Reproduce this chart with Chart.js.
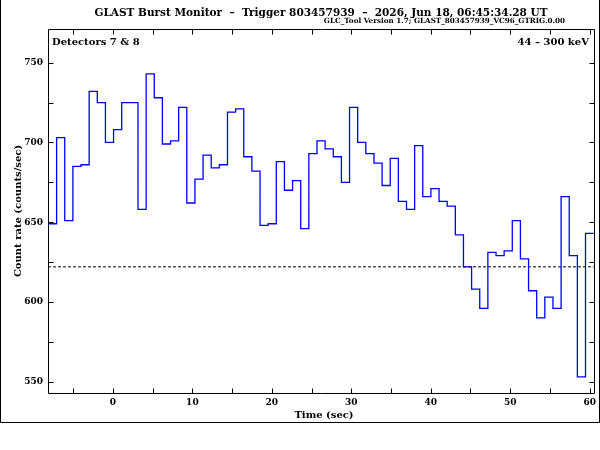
<!DOCTYPE html>
<html><head><meta charset="utf-8">
<script src="https://cdn.jsdelivr.net/npm/chart.js@4.4.1/dist/chart.umd.min.js"></script>
<style>html,body{margin:0;padding:0;background:#fff;}canvas{display:block;}</style>
</head><body>
<canvas id="c" width="600" height="450"></canvas>
<script>
// ---- data ----
const binStart = -8.11;          // left edge of first time bin (s)
const binWidth = 1.024;          // bin width (s)
const rates = [649, 703, 651, 685, 686, 732, 725, 700, 708, 725,
               725, 658, 743, 728, 699, 701, 722, 662, 677, 692,
               684, 686, 719, 721, 691, 682, 648, 649, 688, 670,
               676, 646, 693, 701, 696, 691, 675, 722, 700, 693,
               687, 673, 690, 663, 658, 698, 666, 671, 663, 660,
               642, 622, 608, 596, 631, 629, 632, 651, 627, 607,
               590, 603, 596, 666, 629, 553, 643];
const backgroundLevel = [622];
const xTickValues = [-5, 0, 5, 10, 15, 20, 25, 30, 35, 40, 45, 50, 55, 60];
const xLabelValues = [0, 10, 20, 30, 40, 50, 60];
const yTickValues = [550, 575, 600, 625, 650, 675, 700, 725, 750];
const yLabelValues = [550, 600, 650, 700, 750];
const xRange = [-8.17, 60.53];
const yRange = [542.9, 771.1];

const titleText = 'GLAST Burst Monitor  \u2013  Trigger 803457939  \u2013  2026, Jun 18, 06:45:34.28 UT';
const subtitleText = 'GLC_Tool Version 1.7; GLAST_803457939_VC96_GTRIG.0.00';
const detectorText = 'Detectors 7 & 8';
const energyText = '44 \u2013 300 keV';
const xTitleText = 'Time (sec)';
const yTitleText = 'Count rate (counts/sec)';

// ---- build step points from bins ----
const stepPoints = rates.map((r, i) => ({x: binStart + i * binWidth, y: r}));
stepPoints.push({x: binStart + rates.length * binWidth, y: rates[rates.length - 1]});
const bgPoints = [{x: xRange[0], y: backgroundLevel[0]}, {x: xRange[1], y: backgroundLevel[0]}];

const FONT = '"DejaVu Serif", "Liberation Serif", serif';

const framePlugin = {
  id: 'frame',
  afterDatasetsDraw(chart) {
    const ctx = chart.ctx, a = chart.chartArea;
    const xs = chart.scales.x, ys = chart.scales.y;
    const L = Math.round(a.left) + 0.5, R = Math.round(a.right) + 0.5;
    const T = Math.round(a.top) + 0.5, B = Math.round(a.bottom) + 0.5;
    ctx.save();
    ctx.strokeStyle = '#000';
    ctx.lineWidth = 1;
    ctx.beginPath();
    ctx.rect(L, T, R - L, B - T);
    const tl = 5;
    xs.ticks.forEach(t => {
      const px = Math.round(xs.getPixelForValue(t.value)) + 0.5;
      ctx.moveTo(px, B); ctx.lineTo(px, B - tl);
      ctx.moveTo(px, T); ctx.lineTo(px, T + tl);
    });
    ys.ticks.forEach(t => {
      const py = Math.round(ys.getPixelForValue(t.value)) + 0.5;
      ctx.moveTo(L, py); ctx.lineTo(L + tl, py);
      ctx.moveTo(R, py); ctx.lineTo(R - tl, py);
    });
    ctx.stroke();
    // outer page frame
    ctx.beginPath();
    ctx.moveTo(0.5, 0); ctx.lineTo(0.5, 422.5); ctx.lineTo(599.5, 422.5); ctx.lineTo(599.5, 0);
    ctx.stroke();
    ctx.restore();
  },
  afterDraw(chart) {
    const ctx = chart.ctx, a = chart.chartArea;
    ctx.save();
    ctx.fillStyle = '#000';
    ctx.textBaseline = 'alphabetic';
    ctx.font = 'bold 10.5px ' + FONT;
    ctx.textAlign = 'center';
    ctx.fillText(titleText, 321, 16);
    ctx.font = 'bold 7.2px ' + FONT;
    ctx.textAlign = 'right';
    ctx.fillText(subtitleText, 565, 23);
    ctx.font = 'bold 10px ' + FONT;
    ctx.textAlign = 'left';
    ctx.fillText(detectorText, a.left + 4, 45);
    ctx.textAlign = 'right';
    ctx.fillText(energyText, a.right - 5, 45);
    ctx.textAlign = 'center';
    ctx.fillText(xTitleText, 324, 418);
    ctx.translate(21, (a.top + a.bottom) / 2);
    ctx.rotate(-Math.PI / 2);
    ctx.fillText(yTitleText, 0, 0);
    ctx.restore();
  }
};

new Chart(document.getElementById('c'), {
  type: 'line',
  data: {
    datasets: [
      {data: stepPoints, stepped: true, borderColor: '#0000ff', borderWidth: 1.3,
       pointRadius: 0, fill: false},
      {data: bgPoints, borderColor: '#000', borderWidth: 1, borderDash: [3, 2],
       pointRadius: 0, fill: false}
    ]
  },
  options: {
    responsive: false,
    animation: false,
    devicePixelRatio: 1,
    layout: {padding: {top: 29, right: 6, left: 0, bottom: 0}},
    plugins: {legend: {display: false}, title: {display: false}, tooltip: {enabled: false}},
    scales: {
      x: {
        type: 'linear', min: xRange[0], max: xRange[1],
        grid: {display: false, drawTicks: false}, border: {display: false},
        afterBuildTicks: s => { s.ticks = xTickValues.map(v => ({value: v})); },
        afterFit: s => { s.height = 57; },
        ticks: {
          padding: 4, color: '#000', maxRotation: 0, autoSkip: false,
          font: {family: FONT, size: 9, weight: 'bold'},
          callback: v => xLabelValues.includes(v) ? String(v) : ''
        }
      },
      y: {
        type: 'linear', min: yRange[0], max: yRange[1],
        grid: {display: false, drawTicks: false}, border: {display: false},
        afterBuildTicks: s => { s.ticks = yTickValues.map(v => ({value: v})); },
        afterFit: s => { s.width = 48; },
        ticks: {
          padding: 5, color: '#000', autoSkip: false,
          font: {family: FONT, size: 9, weight: 'bold'},
          callback: v => yLabelValues.includes(v) ? String(v) : ''
        }
      }
    }
  },
  plugins: [framePlugin]
});
</script>
</body></html>
